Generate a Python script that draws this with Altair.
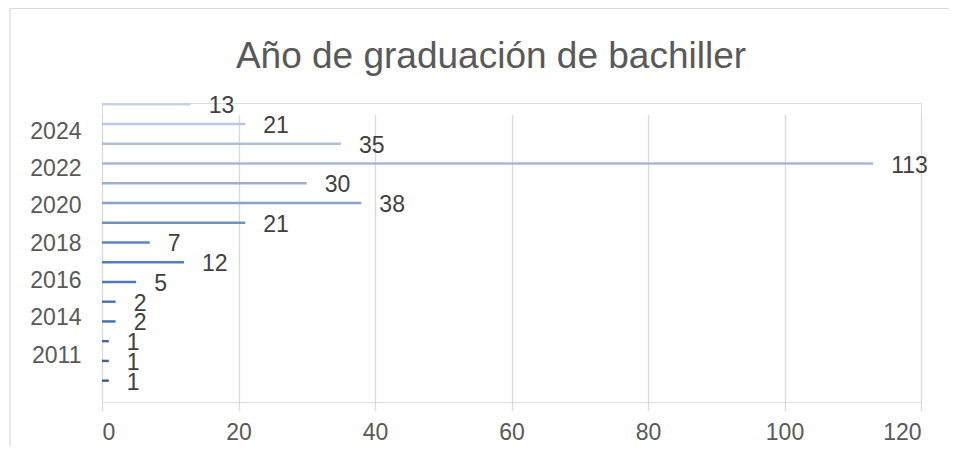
import altair as alt
import pandas as pd

# ---- data (top to bottom as drawn) ----
years = ["2025", "2024", "2023", "2022", "2021", "2020", "2019", "2018",
         "2017", "2016", "2015", "2014", "2013", "2011", "2010"]
counts = [13, 21, 35, 113, 30, 38, 21, 7, 12, 5, 2, 2, 1, 1, 1]

# category axis as drawn by the original (16 slots, last one blank)
axis_cats = years + [" "]
axis_shown = ["2024", "2022", "2020", "2018", "2016", "2014", "2011"]
x_ticks = [0, 20, 40, 60, 80, 100, 120]
title_text = ["Año de graduación de bachiller"]

# ---- styles ----
palette = ["#C9D2E2", "#BCC8DF", "#AEBFDC", "#A6B8D9", "#9AAFD3", "#8AA3CC",
           "#7093C4", "#5A86C2", "#5080BF", "#4C79B6", "#4874B0", "#4470AB",
           "#4169A0", "#3E6699", "#3A5F8F"]
FONT = "Liberation Sans"

W, H = 819, 299
df = pd.DataFrame({"year": years, "count": counts})
axis_df = pd.DataFrame({"cat": axis_cats})
one = pd.DataFrame({"t": title_text})

x_axis = alt.Axis(values=x_ticks, grid=True, gridColor="#D9D9D9", gridWidth=1.3,
                  domain=False, ticks=False, labelFontSize=23, labelColor="#595959",
                  labelFont=FONT, labelPadding=19, title=None)
x_enc = alt.X("count:Q", scale=alt.Scale(domain=[0, 120], nice=False, zero=True), axis=x_axis)

# band scale for the bars, slightly offset from the category axis
step = 19.74
r0 = 1.3 - step / 2
bar_y = alt.Y("year:N", sort=years,
              scale=alt.Scale(domain=years, range=[r0, r0 + step * len(years)],
                              paddingInner=0, paddingOuter=0),
              axis=None)

axis_layer = alt.Chart(axis_df).mark_point(opacity=0).encode(
    y=alt.Y("cat:N", sort=axis_cats,
            scale=alt.Scale(domain=axis_cats, paddingInner=0, paddingOuter=0),
            axis=alt.Axis(values=axis_shown, ticks=False, domain=False, grid=False,
                          labelFontSize=23, labelColor="#595959", labelFont=FONT,
                          labelPadding=21, title=None))
)

bars = alt.Chart(df).mark_bar(size=2.4).encode(
    x=x_enc,
    y=bar_y,
    color=alt.Color("year:N", scale=alt.Scale(domain=years, range=palette), legend=None),
)

labels = alt.Chart(df).mark_text(align="left", baseline="middle", dx=18, dy=2,
                                 fontSize=23, font=FONT, color="#404040").encode(
    x=x_enc,
    y=bar_y,
    text="count:Q",
)

# chart frame (top and left edges visible in the original crop)
frame_top = alt.Chart(one).mark_rule(color="#D9D9D9", strokeWidth=1.2).encode(
    x=alt.value(-92), x2=alt.value(W + 80), y=alt.value(-94.5))
frame_left = alt.Chart(one).mark_rule(color="#D9D9D9", strokeWidth=1.2).encode(
    x=alt.value(-92), y=alt.value(-94.5), y2=alt.value(H + 80))

title = alt.Chart(one).mark_text(align="center", baseline="alphabetic", fontSize=37,
                                 font=FONT, color="#595959").encode(
    text="t:N", x=alt.value(389), y=alt.value(-35))

chart = alt.layer(frame_top, frame_left, title, axis_layer, bars, labels).resolve_scale(
    y="independent"
).properties(
    width=W, height=H,
    autosize=alt.AutoSizeParams(type="none"),
    padding={"left": 94, "top": 95, "right": 28, "bottom": 44},
).configure_view(stroke=None).configure(background="white")

chart.save("out.html", embed_options={"renderer": "svg", "actions": False})
